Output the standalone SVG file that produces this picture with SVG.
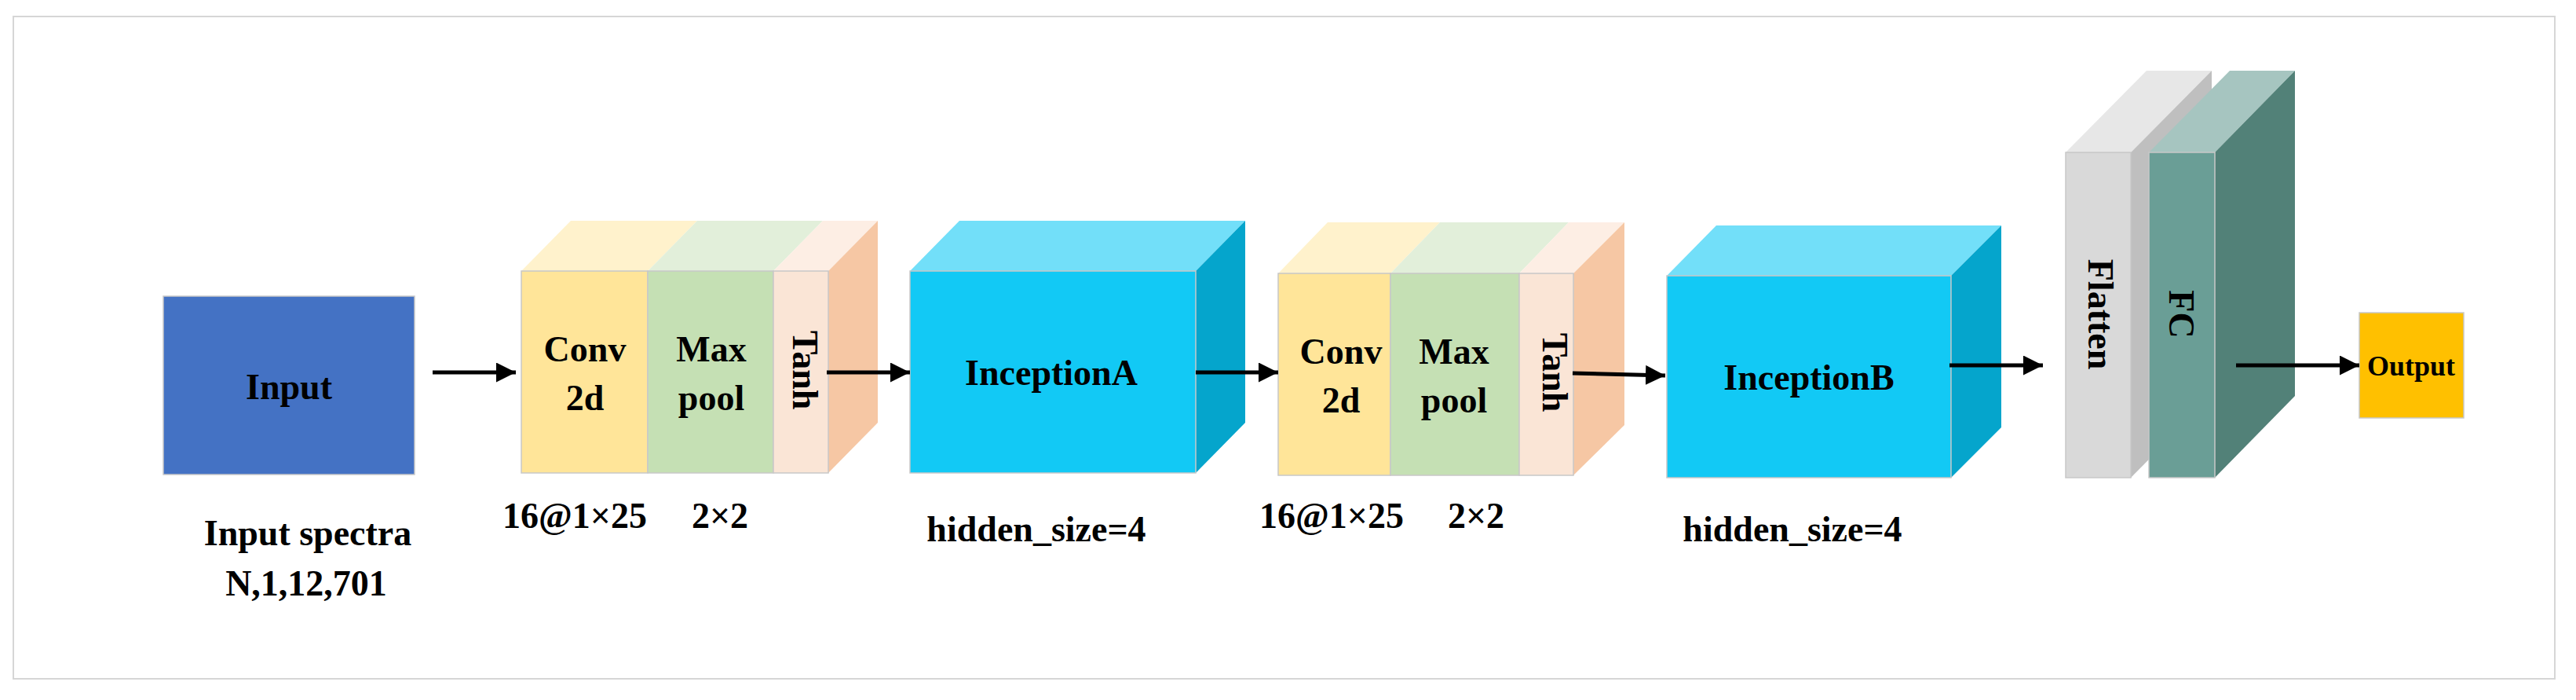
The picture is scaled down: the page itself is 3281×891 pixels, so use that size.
<svg xmlns="http://www.w3.org/2000/svg" width="3281" height="891" viewBox="0 0 3281 891">
<style>
text{font-family:"Liberation Serif","Times New Roman",serif;font-weight:bold;fill:#000;text-anchor:middle}
.l{font-size:46px}
.e{stroke:#c8c8c8;stroke-width:1.5}
.c{stroke:#000;stroke-width:5;fill:none;marker-end:url(#a)}
</style>
<defs><marker id="a" viewBox="0 0 10 10" refX="10" refY="5" markerWidth="5" markerHeight="5" orient="auto" markerUnits="strokeWidth"><path d="M0,0L10,5L0,10z" fill="#000"/></marker></defs>
<rect x="17" y="21" width="3237" height="843" fill="#fff" stroke="#d6d6d6" stroke-width="2"/>
<g id="input"><rect x="208" y="377" width="320" height="227" fill="#4472c4" class="e"/><text class="l" x="368" y="508">Input</text></g>
<g id="block1">
<polygon points="664,345 727,281 888,281 825,345" fill="#fff2cc"/>
<polygon points="825,345 888,281 1048,281 985,345" fill="#e2efda"/>
<polygon points="985,345 1048,281 1118,281 1055,345" fill="#fdeee4"/>
<polygon points="1055,345 1118,281 1118,538 1055,602" fill="#f6c7a4"/>
<rect x="664" y="345" width="161" height="257" fill="#ffe599" class="e"/>
<rect x="825" y="345" width="160" height="257" fill="#c5e0b4" class="e"/>
<rect x="985" y="345" width="70" height="257" fill="#fae5d6" class="e"/>
<text class="l" x="745" y="460">Conv</text><text class="l" x="745" y="522">2d</text>
<text class="l" x="906" y="460">Max</text><text class="l" x="906" y="522">pool</text>
<text class="l" transform="translate(1010,471) rotate(90)">Tanh</text>
</g>
<g id="inceptionA">
<polygon points="1159,345 1222,281 1586,281 1523,345" fill="#72dff9"/>
<polygon points="1523,345 1586,281 1586,538 1523,602" fill="#05a5cc"/>
<rect x="1159" y="345" width="364" height="257" fill="#12c9f5" class="e"/>
<text class="l" x="1339" y="490">InceptionA</text>
</g>
<g id="block2">
<polygon points="1628,348 1691,283 1834,283 1771,348" fill="#fff2cc"/>
<polygon points="1771,348 1834,283 1998,283 1935,348" fill="#e2efda"/>
<polygon points="1935,348 1998,283 2069,283 2004,348" fill="#fdeee4"/>
<polygon points="2004,348 2069,283 2069,541 2004,605" fill="#f6c7a4"/>
<rect x="1628" y="348" width="143" height="257" fill="#ffe599" class="e"/>
<rect x="1771" y="348" width="164" height="257" fill="#c5e0b4" class="e"/>
<rect x="1935" y="348" width="69" height="257" fill="#fae5d6" class="e"/>
<text class="l" x="1708" y="463">Conv</text><text class="l" x="1708" y="525">2d</text>
<text class="l" x="1852" y="463">Max</text><text class="l" x="1852" y="525">pool</text>
<text class="l" transform="translate(1965,474) rotate(90)">Tanh</text>
</g>
<g id="inceptionB">
<polygon points="2123,351 2186,287 2549,287 2485,351" fill="#72dff9"/>
<polygon points="2485,351 2549,287 2549,544 2485,608" fill="#05a5cc"/>
<rect x="2123" y="351" width="362" height="257" fill="#12c9f5" class="e"/>
<text class="l" x="2304" y="496">InceptionB</text>
</g>
<g id="flatten">
<polygon points="2631,194 2714,194 2817,90 2734,90" fill="#e7e7e7"/>
<polygon points="2714,194 2817,90 2817,504 2714,608" fill="#bfbfbf"/>
<rect x="2631" y="194" width="83" height="414" fill="#d9d9d9" class="e"/>
<text class="l" transform="translate(2660,400) rotate(90)">Flatten</text>
</g>
<g id="fc">
<polygon points="2737,194 2821,194 2923,90 2840,90" fill="#a6c5c0"/>
<polygon points="2821,194 2923,90 2923,504 2821,608" fill="#528178"/>
<rect x="2737" y="194" width="84" height="414" fill="#6a9e96" class="e"/>
<text class="l" transform="translate(2763,400) rotate(90)">FC</text>
</g>
<g id="output"><rect x="3005" y="398" width="133" height="134" fill="#ffc000" class="e"/><text x="3071" y="478" style="font-size:36px">Output</text></g>
<g id="labels">
<text class="l" x="732" y="672">16@1×25</text><text class="l" x="917" y="672">2×2</text>
<text class="l" x="1320" y="689">hidden_size=4</text>
<text class="l" x="1696" y="672">16@1×25</text><text class="l" x="1880" y="672">2×2</text>
<text class="l" x="2283" y="689">hidden_size=4</text>
<text class="l" x="392" y="694">Input spectra</text><text class="l" x="390" y="758">N,1,12,701</text>
</g>
<g id="connectors">
<line class="c" x1="551" y1="474" x2="657" y2="474"/>
<line class="c" x1="1053" y1="474" x2="1159" y2="474"/>
<line class="c" x1="1523" y1="474" x2="1628" y2="474"/>
<line class="c" x1="2003" y1="475" x2="2121" y2="478"/>
<line class="c" x1="2483" y1="465" x2="2602" y2="465"/>
<line class="c" x1="2848" y1="465" x2="3005" y2="465"/>
</g>
</svg>
